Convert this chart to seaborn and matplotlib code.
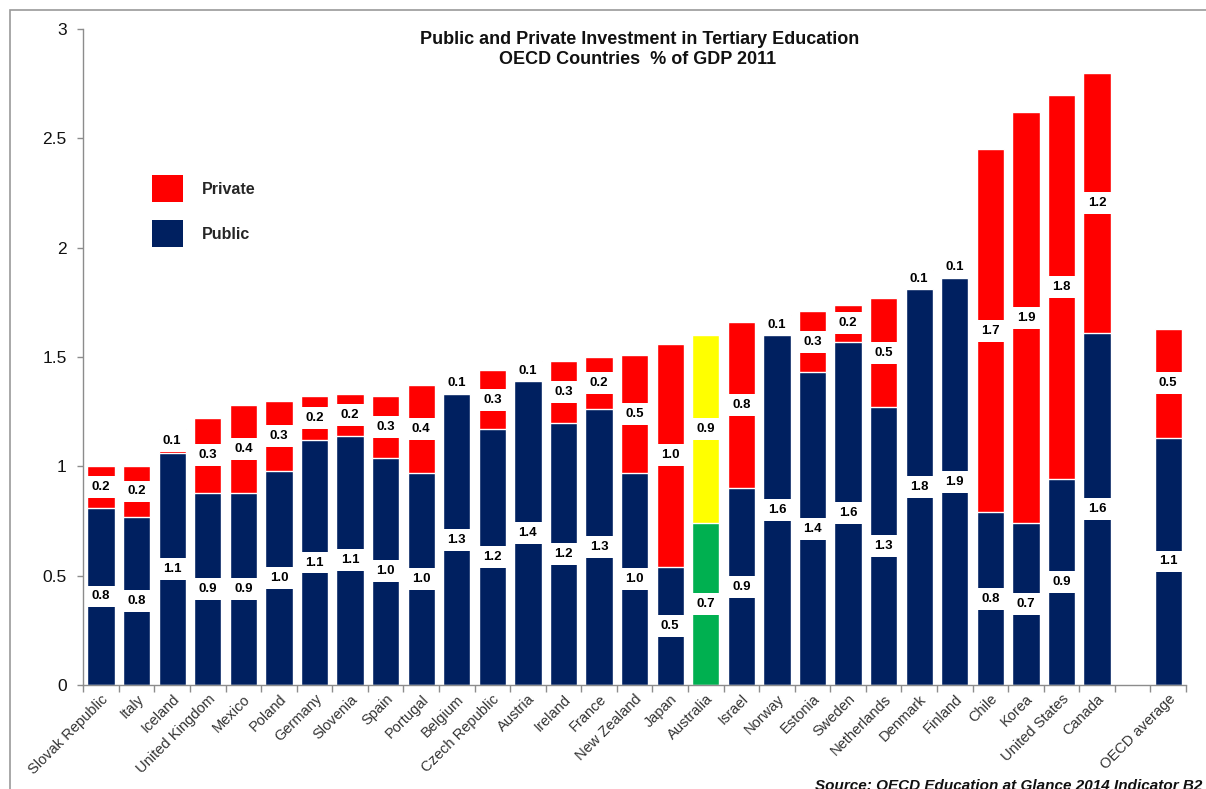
import matplotlib
matplotlib.use("Agg")
import matplotlib.pyplot as plt
import seaborn as sns
import pandas as pd
from matplotlib.patches import Patch, Rectangle
from matplotlib.ticker import FixedLocator

# Spending on tertiary education, % of GDP (2011)
countries = ["Slovak Republic", "Italy", "Iceland", "United Kingdom", "Mexico",
             "Poland", "Germany", "Slovenia", "Spain", "Portugal", "Belgium",
             "Czech Republic", "Austria", "Ireland", "France", "New Zealand",
             "Japan", "Australia", "Israel", "Norway", "Estonia", "Sweden",
             "Netherlands", "Denmark", "Finland", "Chile", "Korea",
             "United States", "Canada", "OECD average"]
public = [0.81, 0.77, 1.06, 0.88, 0.88, 0.98, 1.12, 1.14, 1.04, 0.97, 1.33,
          1.17, 1.39, 1.20, 1.26, 0.97, 0.54, 0.74, 0.90, 1.60, 1.43, 1.57,
          1.27, 1.81, 1.86, 0.79, 0.74, 0.94, 1.61, 1.13]
private = [0.19, 0.23, 0.11, 0.34, 0.40, 0.32, 0.20, 0.19, 0.28, 0.40, 0.10,
           0.27, 0.09, 0.28, 0.24, 0.54, 1.02, 0.86, 0.76, 0.09, 0.28, 0.17,
           0.50, 0.09, 0.10, 1.66, 1.88, 1.76, 1.19, 0.50]
highlight = "Australia"
gap_slot = " "

NAVY, RED = "#002060", "#FF0000"
GREEN, YELLOW = "#00B050", "#FFFF00"

df = pd.DataFrame({"country": countries, "public": public, "private": private})
df["total"] = df["public"] + df["private"]
order = countries[:-1] + [gap_slot, countries[-1]]
pos = {c: i for i, c in enumerate(order)}

top_pal = {c: (YELLOW if c == highlight else RED) for c in countries}
bot_pal = {c: (GREEN if c == highlight else NAVY) for c in countries}

sns.set_theme(style="white")
plt.rcParams["font.family"] = ["Liberation Sans", "DejaVu Sans"]

fig = plt.figure(figsize=(12.06, 7.89), dpi=100)
ax = fig.add_axes([83.3 / 1206, 1 - 685 / 789, 1102.7 / 1206, 656 / 789])

BW = 0.77
sns.barplot(data=df, x="country", y="total", hue="country", order=order,
            palette=top_pal, legend=False, width=BW, saturation=1,
            ax=ax, zorder=2)
sns.barplot(data=df, x="country", y="public", hue="country", order=order,
            palette=bot_pal, legend=False, width=BW, saturation=1,
            ax=ax, zorder=2)

# value labels sit on a white band across the middle of each segment
BAND = 0.1
mids, texts, xs = [], [], []
for c, p, q in zip(countries, public, private):
    x = pos[c]
    for mid, v in ((p / 2, p), (p + q / 2, q)):
        xs.append(x)
        mids.append(mid)
        texts.append(f"{v:.1f}")
ax.bar(xs, [BAND] * len(xs), bottom=[m - BAND / 2 for m in mids],
       width=BW + 0.02, color="white", zorder=3, linewidth=0)
for x, m, t in zip(xs, mids, texts):
    ax.text(x, m, t, ha="center", va="center", fontsize=9.5,
            fontweight="bold", color="black", zorder=4)

ax.set_xlim(-0.5, len(order) - 0.5)
ax.set_ylim(0, 3)
ax.set_xlabel("")
ax.set_ylabel("")

for s in ("top", "right"):
    ax.spines[s].set_visible(False)
for s in ("left", "bottom"):
    ax.spines[s].set_color("#8c8c8c")
    ax.spines[s].set_linewidth(1.0)

ax.set_yticks([0, 0.5, 1, 1.5, 2, 2.5, 3])
ax.set_yticklabels(["0", "0.5", "1", "1.5", "2", "2.5", "3"])
ax.tick_params(axis="y", which="major", direction="out", length=4, width=1,
               color="#8c8c8c", pad=8, labelsize=12.5, labelcolor="#111111",
               left=True)

ax.set_xticks(range(len(order)))
ax.set_xticklabels(order, rotation=45, ha="right", rotation_mode="anchor",
                   fontsize=10.5, color="#333333")
ax.tick_params(axis="x", which="major", length=0, pad=5)
ax.xaxis.set_minor_locator(FixedLocator([i - 0.5 for i in range(len(order) + 1)]))
ax.tick_params(axis="x", which="minor", direction="out", length=5, width=1,
               color="#8c8c8c", bottom=True)
ax.grid(False)

handles = [Patch(facecolor=RED, edgecolor="none", label="Private"),
           Patch(facecolor=NAVY, edgecolor="none", label="Public")]
leg = ax.legend(handles=handles, loc="upper left",
                bbox_to_anchor=(152 / 1206, 1 - 175 / 789),
                bbox_transform=fig.transFigure, frameon=False,
                handlelength=1.95, handleheight=2.25, labelspacing=1.12,
                handletextpad=1.2, borderpad=0, borderaxespad=0,
                prop={"size": 11.5, "weight": "bold"})

fig.text(640 / 1206, 1 - 40 / 789,
         "Public and Private Investment in Tertiary Education",
         ha="center", va="center", fontsize=13, fontweight="bold",
         color="#111111")
fig.text(638 / 1206, 1 - 60 / 789, "OECD Countries  % of GDP 2011",
         ha="center", va="center", fontsize=13, fontweight="bold",
         color="#111111")
fig.text(815 / 1206, 1 - 790 / 789,
         "Source: OECD Education at Glance 2014 Indicator B2",
         ha="left", va="baseline", fontsize=11, fontweight="bold",
         fontstyle="italic", color="#111111")

fig.add_artist(Rectangle((10 / 1206, -0.1), 1.0, 1 - 10 / 789 + 0.1,
                         transform=fig.transFigure, fill=False,
                         edgecolor="#9a9a9a", linewidth=1.2, clip_on=False))

fig.savefig("out.png", dpi=100)
